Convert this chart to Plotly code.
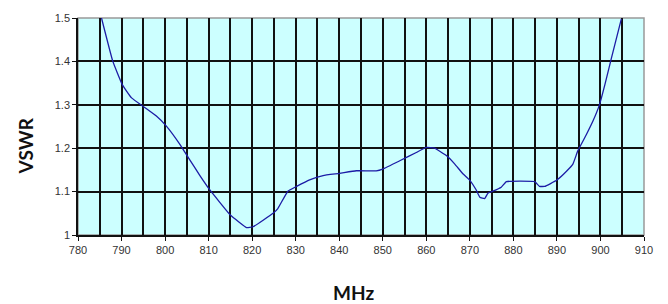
import plotly.graph_objects as go

freq_mhz = [785.4, 788.0, 790.2, 792.3, 795.3, 798.0, 800.3, 803.4, 805.3, 808.0, 810.2,
            815.0, 818.7, 820.2, 824.8, 825.9, 828.2, 830.2, 833.2, 836.3, 840.1, 843.9,
            848.5, 850.0, 853.9, 857.7, 860.0, 861.9, 864.6, 866.5, 868.4, 870.0, 871.5,
            872.3, 873.4, 874.2, 875.3, 877.2, 878.4, 884.9, 886.0, 887.2, 889.9, 892.2,
            893.7, 894.8, 896.8, 898.3, 899.8, 901.0, 902.5, 904.8]
vswr = [1.500, 1.400, 1.346, 1.316, 1.294, 1.274, 1.251, 1.209, 1.179, 1.137, 1.105,
        1.046, 1.017, 1.019, 1.050, 1.061, 1.101, 1.112, 1.127, 1.137, 1.142, 1.148,
        1.148, 1.152, 1.171, 1.190, 1.202, 1.200, 1.183, 1.164, 1.141, 1.126, 1.103,
        1.087, 1.084, 1.097, 1.101, 1.110, 1.123, 1.123, 1.112, 1.112, 1.126, 1.147,
        1.164, 1.194, 1.232, 1.263, 1.301, 1.346, 1.407, 1.498]

x_ticks = list(range(780, 911, 10))
y_ticks = [1.0, 1.1, 1.2, 1.3, 1.4, 1.5]
y_labels = ["1", "1.1", "1.2", "1.3", "1.4", "1.5"]

fig = go.Figure()
fig.add_trace(go.Scatter(x=freq_mhz, y=vswr, mode="lines",
                         line=dict(color="#1c1ca6", width=1.3, shape="spline", smoothing=0.3),
                         hoverinfo="skip", showlegend=False))

tick_font = dict(family="Liberation Sans, Arial, sans-serif", size=11, color="#333333")

fig.update_layout(
    width=668, height=304,
    margin=dict(l=78, r=24, t=16, b=69),
    paper_bgcolor="white",
    plot_bgcolor="#ccffff",
    xaxis=dict(range=[780, 910], tickvals=x_ticks, ticktext=[str(v) for v in x_ticks],
               showgrid=True, gridcolor="#111111", gridwidth=1.8,
               minor=dict(dtick=5, tick0=780, showgrid=True, gridcolor="#111111", gridwidth=1.8, ticks=""),
               ticks="outside", ticklen=4, tickcolor="#111111", tickwidth=1,
               showline=True, linecolor="#111111", linewidth=1.5,
               tickfont=tick_font, zeroline=False, fixedrange=True),
    yaxis=dict(range=[1, 1.5], tickvals=y_ticks, ticktext=y_labels,
               showgrid=True, gridcolor="#111111", gridwidth=1.8,
               ticks="outside", ticklen=4, tickcolor="#111111", tickwidth=1,
               showline=True, linecolor="#111111", linewidth=1.5,
               tickfont=tick_font, zeroline=False, fixedrange=True),
    shapes=[dict(type="rect", xref="paper", yref="paper", x0=0, x1=1, y0=0, y1=1,
                 line=dict(color="#999999", width=1.5), layer="below")],
    annotations=[
        dict(text="<b>MHz</b>", xref="paper", yref="paper", x=0.487, y=-0.265,
             yanchor="middle", xanchor="center", showarrow=False,
             font=dict(family="Lato, Open Sans, sans-serif", size=19, color="#111111")),
        dict(text="<b>VSWR</b>", xref="paper", yref="paper", x=-0.093, y=0.41,
             xanchor="center", yanchor="middle", textangle=-90, showarrow=False,
             font=dict(family="Lato, Open Sans, sans-serif", size=19, color="#111111")),
    ],
)

fig.write_html("out.html", config={"displayModeBar": False},
               post_script="document.body.style.margin='0px';document.body.style.padding='0px';")
